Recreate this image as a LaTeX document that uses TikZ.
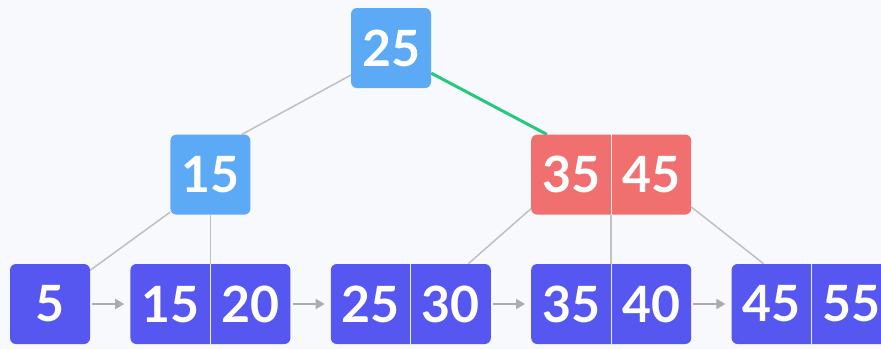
\documentclass[tikz,border=0pt]{standalone}
\usepackage{fontspec}
\setmainfont{Lato}
\usepackage{tikz}
\usetikzlibrary{arrows.meta,positioning,backgrounds}
\definecolor{mybg}{RGB}{248,249,252}
\definecolor{myblue}{RGB}{92,170,246}
\definecolor{myred}{RGB}{240,112,112}
\definecolor{mypurple}{RGB}{86,86,240}
\definecolor{mygreen}{RGB}{38,200,128}
\definecolor{mygray}{RGB}{192,192,192}
\definecolor{myarrow}{RGB}{172,172,176}
\newcommand{\twokeys}[2]{\makebox[80pt]{#1}\makebox[80pt]{#2}}

\begin{document}
\begin{tikzpicture}
    \tikzstyle{key}=[rectangle, rounded corners=6pt, inner sep=0pt, minimum width=80pt, minimum height=80pt, text=white, font=\fontsize{50}{60}\selectfont\bfseries]
    \tikzstyle{edgeline}=[draw=mygray, line width=1.5pt]
    \tikzstyle{divline}=[draw=white!75!mygray, line width=1pt]
    \tikzstyle{nextarrow}=[draw=myarrow, line width=2.5pt, -{Triangle[length=9pt,width=10pt]}, shorten <=2pt, shorten >=6pt]
    \useasboundingbox (0pt,0pt) rectangle (881pt,-349pt);
    % Leaves
    \node[key, fill=mypurple] (l5) at (50pt,-304pt) {5};
    \node[key, fill=mypurple, right=40pt of l5] (l1520) {\twokeys{15}{20}};
    \node[key, fill=mypurple, right=40pt of l1520] (l2530) {\twokeys{25}{30}};
    \node[key, fill=mypurple, right=40pt of l2530] (l3540) {\twokeys{35}{40}};
    \node[key, fill=mypurple, right=40pt of l3540] (l4555) {\twokeys{45}{55}};
    % Inner nodes and root
    \node[key, fill=myblue, above=49pt of l1520] (n15) {15};
    \node[key, fill=myred, above=49pt of l3540] (n3545) {\twokeys{35}{45}};
    \node[key, fill=myblue] (root) at (391pt,-48pt) {25};
    \foreach \n in {l1520,l2530,l3540,l4555,n3545}
        \draw[divline] (\n.north) -- (\n.south);
    % Tree edges
    \begin{scope}[on background layer]
        \fill[mybg] (0pt,0pt) rectangle (881pt,-349pt);
        \draw[edgeline] (root.214) -- (n15.52);
        \draw[edgeline, draw=mygreen, line width=3pt] (root.-32) -- (n3545.148);
        \draw[edgeline] (n15.223) -- (l5.40);
        \draw[edgeline] (n15.south) -- (l1520.north);
        \draw[edgeline] (n3545.203) -- (l2530.35);
        \draw[edgeline] (n3545.south) -- (l3540.north);
        \draw[edgeline] (n3545.-22) -- (l4555.140);
    \end{scope}
    % Leaf links
    \draw[nextarrow] (l5.east) -- (l1520.west);
    \draw[nextarrow] (l1520.east) -- (l2530.west);
    \draw[nextarrow] (l2530.east) -- (l3540.west);
    \draw[nextarrow] (l3540.east) -- (l4555.west);
\end{tikzpicture}
\end{document}
